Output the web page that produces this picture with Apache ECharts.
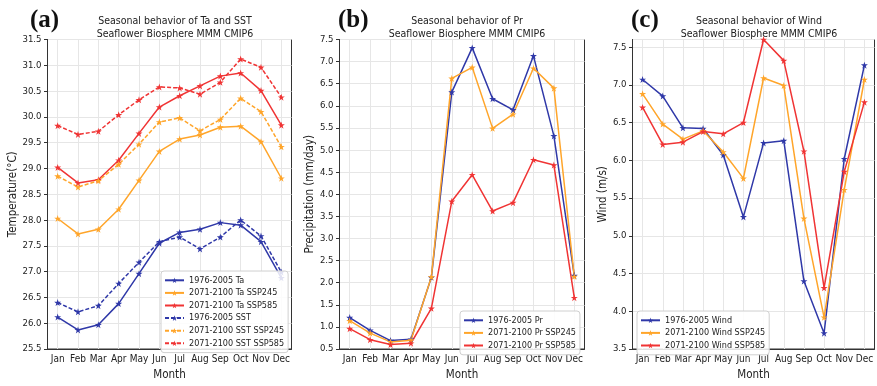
<!DOCTYPE html>
<html>
<head>
<meta charset="utf-8">
<title>Seasonal behavior</title>
<script src="https://cdn.jsdelivr.net/npm/echarts@6/dist/echarts.min.js"></script>
<style>
	html, body { margin: 0; padding: 0; background: #fff; }
	#container { width: 877px; height: 386px; }
</style>
</head>
<body>
<div id="container"></div>
<script>
	var months = ['Jan','Feb','Mar','Apr','May','Jun','Jul','Aug','Sep','Oct','Nov','Dec'];

	// (a) Ta / SST
	var taHist   = [26.12,25.87,25.97,26.38,26.96,27.55,27.76,27.82,27.95,27.90,27.58,26.88];
	var ta245    = [28.03,27.73,27.82,28.21,28.77,29.33,29.57,29.65,29.80,29.82,29.52,28.81];
	var ta585    = [29.02,28.72,28.78,29.16,29.68,30.19,30.41,30.60,30.79,30.85,30.51,29.84];
	var sstHist  = [26.40,26.22,26.34,26.77,27.18,27.58,27.67,27.44,27.67,28.00,27.69,26.99];
	var sst245   = [28.85,28.64,28.76,29.08,29.47,29.90,29.98,29.73,29.95,30.36,30.10,29.42];
	var sst585   = [29.83,29.66,29.72,30.04,30.33,30.58,30.56,30.44,30.67,31.12,30.96,30.38];

	// (b) Pr
	var prHist   = [1.21,0.92,0.69,0.72,2.12,6.31,7.31,6.16,5.91,7.13,5.32,2.16];
	var pr245    = [1.14,0.86,0.66,0.70,2.13,6.62,6.87,5.49,5.81,6.85,6.40,2.14];
	var pr585    = [0.96,0.71,0.60,0.63,1.42,3.84,4.44,3.62,3.81,4.78,4.66,1.66];

	// (c) Wind
	var windHist = [7.07,6.85,6.43,6.42,6.07,5.25,6.23,6.26,4.40,3.71,6.02,7.26];
	var wind245  = [6.88,6.48,6.28,6.39,6.11,5.76,7.09,6.99,5.23,3.92,5.61,7.07];
	var wind585  = [6.70,6.21,6.24,6.38,6.35,6.50,7.60,7.32,6.12,4.31,5.85,6.77];

	var blue = '#2f38a8', orange = '#ffa52a', red = '#f03434';
	var star = 'path://M100 0 L122.45 69.1 L195.1 69.1 L136.3 111.8 L158.8 180.9 L100 138.2 L41.2 180.9 L63.7 111.8 L4.9 69.1 L77.55 69.1 Z';
	var font = 'DejaVu Sans Condensed, DejaVu Sans';

	// half pixel offsets keep the frame crisp
	var grids = [
		{left: 47.5,  top: 39.5, width: 244, height: 314},
		{left: 339.5, top: 39.5, width: 245, height: 314},
		{left: 632.5, top: 39.5, width: 242, height: 314}
	];

	// vertical grid lines at each month (matplotlib style)
	function monthLines(){
		return {
			silent: true, symbol: 'none', z: 1, animation: false,
			label: {show: false},
			lineStyle: {color: '#e6e6e6', width: 1, type: 'solid'},
			emphasis: {disabled: true},
			data: months.map(function(m){ return {xAxis: m}; })
		};
	}

	function mkSeries(name, data, color, idx, dashed, grid){
		var s = {
			name: name,
			type: 'line',
			xAxisIndex: idx,
			yAxisIndex: idx,
			data: data,
			symbol: star,
			symbolSize: 7,
			color: color,
			lineStyle: {width: 1.5, type: dashed ? [4, 2] : 'solid', color: color},
			itemStyle: {color: color},
			z: 3,
			animation: false
		};
		if(grid) s.markLine = monthLines();
		return s;
	}

	function mkX(idx){
		return {
			type: 'category', gridIndex: idx, data: months, boundaryGap: true,
			name: 'Month', nameLocation: 'middle', nameGap: 20,
			nameTextStyle: {fontSize: 11.5, color: '#222', fontFamily: font},
			axisLine: {lineStyle: {color: '#333'}},
			axisTick: {alignWithLabel: true, length: 3.5, lineStyle: {color: '#333'}},
			axisLabel: {fontSize: 10, color: '#222', margin: 5, fontFamily: font, interval: 0},
			splitLine: {show: false}
		};
	}

	function mkY(idx, name, min, max, gap){
		return {
			type: 'value', gridIndex: idx, min: min, max: max, interval: 0.5,
			name: name, nameLocation: 'middle', nameGap: gap,
			nameTextStyle: {fontSize: 11.5, color: '#222', fontFamily: font},
			axisLine: {show: true, lineStyle: {color: '#333'}},
			axisTick: {show: true, length: 3.5, lineStyle: {color: '#333'}},
			axisLabel: {fontSize: 9.5, color: '#222', margin: 6, fontFamily: font, showMaxLabel: max % 0.5 === 0,
				formatter: function(v){ return v.toFixed(1); }},
			splitLine: {show: true, lineStyle: {color: '#e6e6e6'}}
		};
	}

	function mkTitle(text, x){
		return {
			text: text, left: x, top: 10, textAlign: 'center',
			textStyle: {fontSize: 10.5, fontWeight: 'normal', color: '#222', lineHeight: 13, fontFamily: font}
		};
	}

	function mkLabel(text, x){
		return {
			text: text, left: x, top: 3,
			textStyle: {fontSize: 25, fontWeight: 'bold', color: '#111', fontFamily: 'Liberation Serif'}
		};
	}

	function mkLegend(names, x, y){
		return {
			orient: 'vertical', left: x, top: y, data: names,
			padding: [3, 4, 3, 3], itemGap: 0, itemWidth: 19, itemHeight: 7,
			backgroundColor: 'rgba(255,255,255,0.85)', borderColor: '#d0d0d0', borderWidth: 1, borderRadius: 3,
			textStyle: {fontSize: 9, color: '#222', fontFamily: font, lineHeight: 12.6},
			selectedMode: false
		};
	}

	var aNames = ['1976-2005 Ta','2071-2100 Ta SSP245','2071-2100 Ta SSP585','1976-2005 SST','2071-2100 SST SSP245','2071-2100 SST SSP585'];
	var bNames = ['1976-2005 Pr','2071-2100 Pr SSP245','2071-2100 Pr SSP585'];
	var cNames = ['1976-2005 Wind','2071-2100 Wind SSP245','2071-2100 Wind SSP585'];

	var myChart = echarts.init(document.getElementById('container'), null, {renderer: 'canvas'});
	var option = {
		backgroundColor: '#fff',
		animation: false,
		title: [
			mkTitle('Seasonal behavior of Ta and SST\nSeaflower Biosphere MMM CMIP6', 170),
			mkTitle('Seasonal behavior of Pr\nSeaflower Biosphere MMM CMIP6', 462),
			mkTitle('Seasonal behavior of Wind\nSeaflower Biosphere MMM CMIP6', 754),
			mkLabel('(a)', 25),
			mkLabel('(b)', 333),
			mkLabel('(c)', 626)
		],
		grid: grids.map(function(g){
			return {left: g.left, top: g.top, width: g.width, height: g.height, show: true,
				borderColor: '#333', borderWidth: 1, backgroundColor: 'transparent'};
		}),
		legend: [
			mkLegend(aNames, 161, 271),
			mkLegend(bNames, 460, 311),
			mkLegend(cNames, 637, 311)
		],
		xAxis: [mkX(0), mkX(1), mkX(2)],
		yAxis: [
			mkY(0, 'Temperature(°C)', 25.5, 31.5, 26),
			mkY(1, 'Precipitation (mm/day)', 0.5, 7.5, 22),
			mkY(2, 'Wind (m/s)', 3.5, 7.6, 23)
		],
		series: [
			mkSeries(aNames[0], taHist, blue, 0, false, true),
			mkSeries(aNames[1], ta245, orange, 0, false),
			mkSeries(aNames[2], ta585, red, 0, false),
			mkSeries(aNames[3], sstHist, blue, 0, true),
			mkSeries(aNames[4], sst245, orange, 0, true),
			mkSeries(aNames[5], sst585, red, 0, true),
			mkSeries(bNames[0], prHist, blue, 1, false, true),
			mkSeries(bNames[1], pr245, orange, 1, false),
			mkSeries(bNames[2], pr585, red, 1, false),
			mkSeries(cNames[0], windHist, blue, 2, false, true),
			mkSeries(cNames[1], wind245, orange, 2, false),
			mkSeries(cNames[2], wind585, red, 2, false)
		]
	};
	myChart.setOption(option);
</script>
</body>
</html>
